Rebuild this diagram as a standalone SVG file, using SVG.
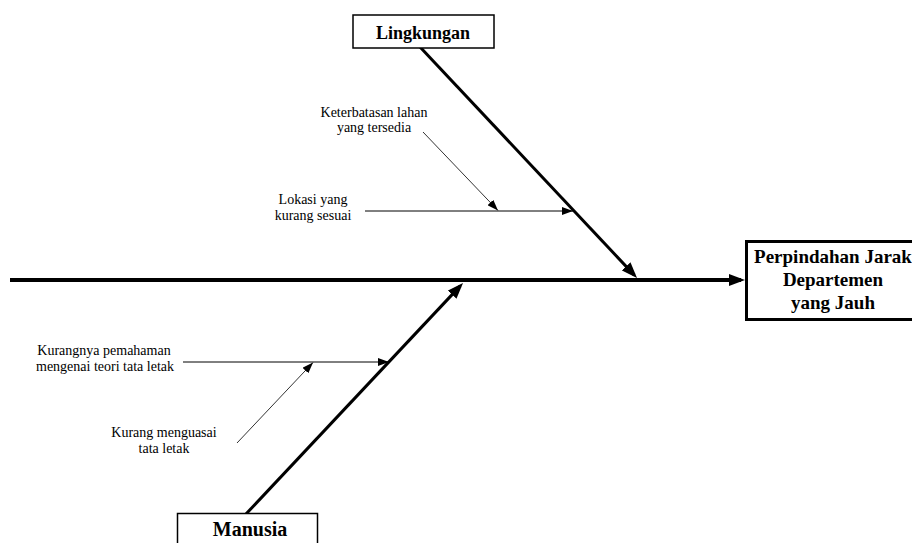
<svg xmlns="http://www.w3.org/2000/svg" width="912" height="543" viewBox="0 0 912 543">
<style>
.small{font-family:"Liberation Serif","Times New Roman",serif;font-size:14px;fill:#000;text-anchor:middle}
.title{font-family:"Liberation Serif","Times New Roman",serif;font-weight:bold;fill:#000;text-anchor:middle}
.box{fill:#fff;stroke:#000}
.bone{stroke:#000;stroke-width:3;fill:none}
.sub{stroke:#000;stroke-width:1;fill:none}
.subd{stroke:#333;stroke-width:1;fill:none}
</style>
<defs>
<marker id="big" markerUnits="userSpaceOnUse" viewBox="0 0 16 12" refX="12" refY="6" markerWidth="16" markerHeight="12" orient="auto">
<path d="M0,0 L16,6 L0,12 Z" fill="#000"/>
</marker>
<marker id="sm" markerUnits="userSpaceOnUse" viewBox="0 0 11 8" refX="11" refY="4" markerWidth="11" markerHeight="8" orient="auto">
<path d="M0,0 L11,4 L0,8 Z" fill="#000"/>
</marker>
</defs>
<rect width="912" height="543" fill="#fff"/>
<g id="connectors">
<line class="bone" x1="10" y1="280" x2="741" y2="280" style="stroke-width:4" marker-end="url(#big)"/>
<line class="bone" x1="420" y1="47" x2="634.3" y2="275.1" marker-end="url(#big)"/>
<line class="bone" x1="246" y1="514" x2="460.3" y2="285.9" marker-end="url(#big)"/>
<line class="sub" x1="365" y1="211" x2="573" y2="211" marker-end="url(#sm)"/>
<line class="subd" x1="423" y1="132" x2="498" y2="210.5" marker-end="url(#sm)"/>
<line class="sub" x1="183" y1="362" x2="389" y2="362" marker-end="url(#sm)"/>
<line class="subd" x1="237" y1="443" x2="313" y2="362.5" marker-end="url(#sm)"/>
</g>
<g id="lingkungan">
<rect class="box" x="353" y="15" width="141" height="33" style="stroke-width:1.5"/>
<text class="title" x="423" y="39" font-size="18">Lingkungan</text>
</g>
<g id="manusia">
<rect class="box" x="177.5" y="513.5" width="140" height="40" style="stroke-width:1.5"/>
<text class="title" x="250" y="536" font-size="20">Manusia</text>
</g>
<g id="effect">
<rect class="box" x="746.5" y="241.5" width="180" height="78" style="stroke-width:3"/>
<text class="title" x="833" y="263" font-size="19">Perpindahan Jarak</text>
<text class="title" x="833" y="286" font-size="19">Departemen</text>
<text class="title" x="833" y="309" font-size="19">yang Jauh</text>
</g>
<g id="keterbatasan">
<text class="small" x="374" y="117">Keterbatasan lahan</text>
<text class="small" x="374" y="132">yang tersedia</text>
</g>
<g id="lokasi">
<text class="small" x="313" y="204">Lokasi yang</text>
<text class="small" x="313" y="220">kurang sesuai</text>
</g>
<g id="kurangnya">
<text class="small" x="104" y="355">Kurangnya pemahaman</text>
<text class="small" x="105" y="371">mengenai teori tata letak</text>
</g>
<g id="menguasai">
<text class="small" x="164" y="437">Kurang menguasai</text>
<text class="small" x="164" y="453">tata letak</text>
</g>
</svg>
